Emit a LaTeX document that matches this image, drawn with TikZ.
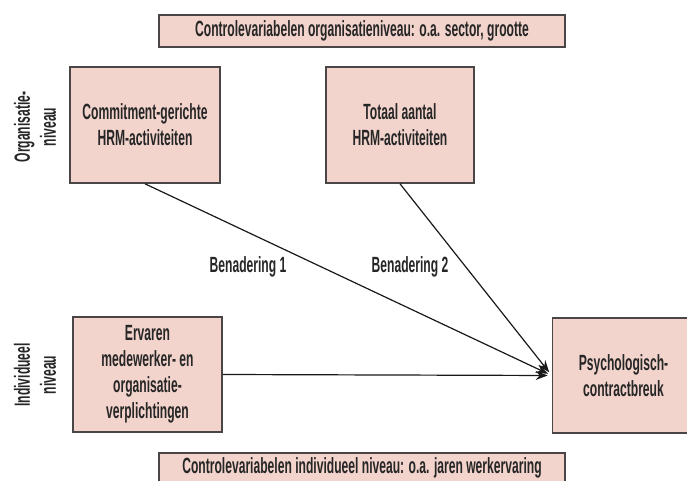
\documentclass[tikz,border=0pt]{standalone}
\usepackage{fontspec}
\setmainfont{Liberation Sans}[FakeStretch=0.55]
\usepackage{xcolor}
\usetikzlibrary{arrows.meta}
\definecolor{boxfill}{HTML}{F2D4CC}
\definecolor{boxline}{HTML}{4A4546}
\tikzset{
blok/.style={draw=boxline, fill=boxfill, line width=0.8pt, align=center, inner sep=0pt},
pijl/.style={-{Stealth[length=6pt,width=4.5pt,inset=2pt]}, line width=0.6pt, draw=black!90, shorten >=2pt},
tekst/.style={font=\fontsize{11}{13}\selectfont\bfseries, text=black!85}
}
\begin{document}
\begin{tikzpicture}[x=0.5pt,y=-0.5pt]
\useasboundingbox (0,0) rectangle (687,481);
\node[blok,tekst,minimum width=203pt,minimum height=16pt] (ctrlorg) at (362,31) {Controlevariabelen organisatieniveau: o.a. sector, grootte};
\node[blok,tekst,minimum width=203pt,minimum height=15pt] (ctrlind) at (362,468) {Controlevariabelen individueel niveau: o.a. jaren werkervaring};
\node[blok,tekst,minimum width=75pt,minimum height=58pt] (commit) at (145,125) {Commitment-gerichte\\HRM-activiteiten};
\node[blok,tekst,minimum width=74pt,minimum height=58pt] (totaal) at (400,125) {Totaal aantal\\HRM-activiteiten};
\node[blok,tekst,minimum width=74.5pt,minimum height=57.5pt] (ervaren) at (147.5,374.5) {Ervaren\\medewerker- en\\organisatie-\\verplichtingen};
\node[blok,tekst,minimum width=71pt,minimum height=57.5pt] (breuk) at (623.5,375.5) {Psychologisch-\\contractbreuk};
\node[tekst,rotate=90,align=center] (orgniv) at (35,127) {Organisatie-\\niveau};
\node[tekst,rotate=90,align=center] (indniv) at (35,375) {Individueel\\niveau};
\node[tekst] (ben1) at (248,267) {Benadering 1};
\node[tekst] (ben2) at (410,267) {Benadering 2};
\draw[pijl] (commit.south) -- (breuk.west);
\draw[pijl] (totaal.south) -- (breuk.west);
\draw[pijl] (ervaren.east) -- (breuk.west);
\end{tikzpicture}
\end{document}
